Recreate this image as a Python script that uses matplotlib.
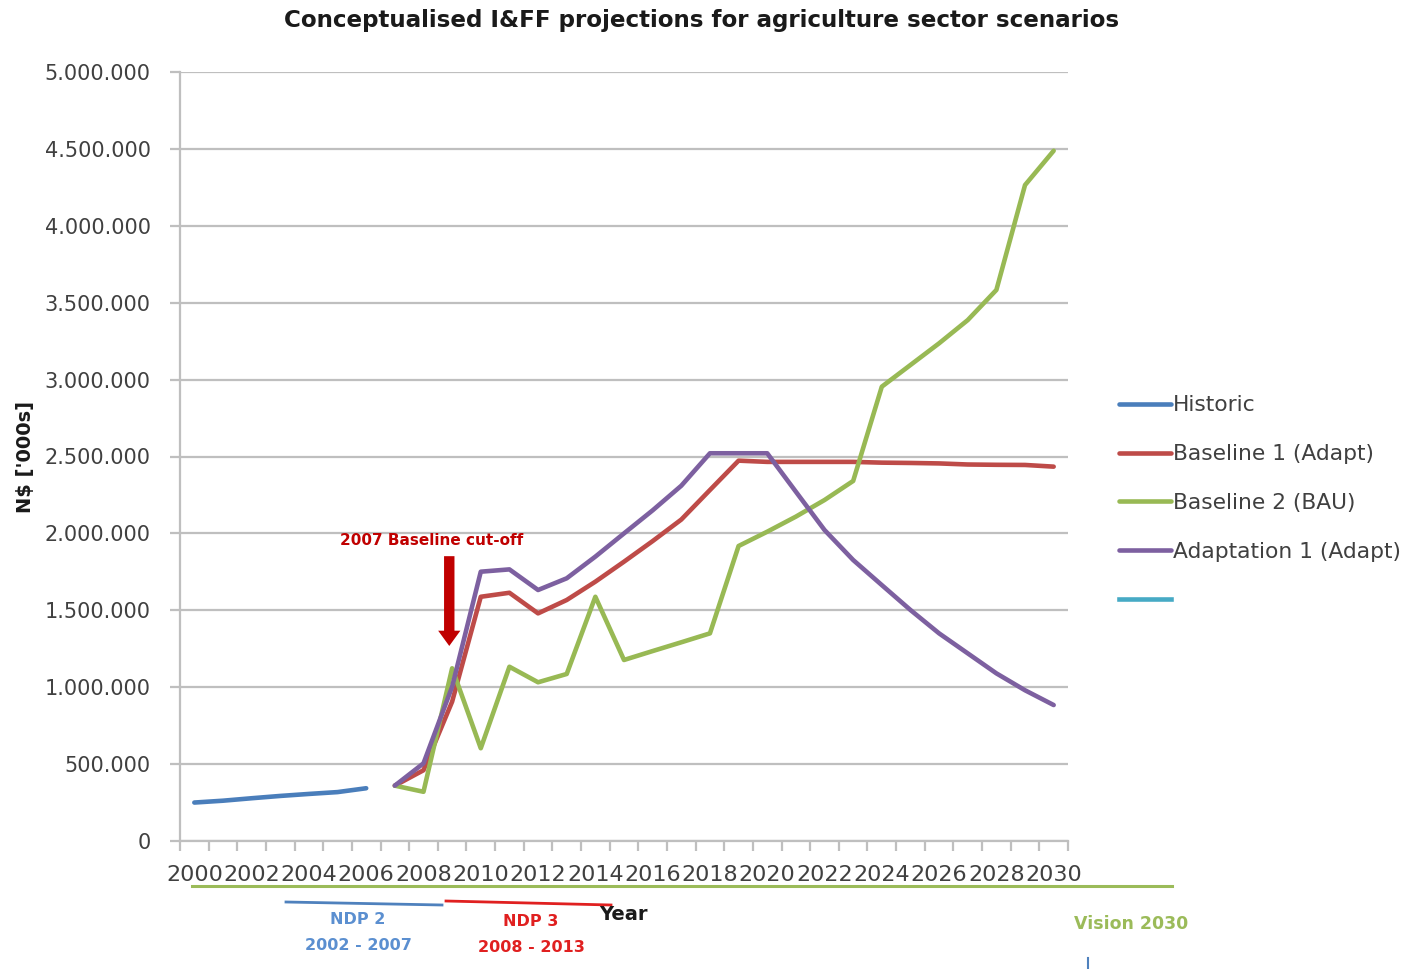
import numpy as np
import matplotlib
matplotlib.use("Agg")
import matplotlib.pyplot as plt
from matplotlib.lines import Line2D
from matplotlib.ticker import FuncFormatter, MultipleLocator

years = list(range(2000, 2031))

# N$ '000s
historic = [250000, 262000, 278000, 293000, 306000, 318000, 343000]
proj_years = list(range(2007, 2031))
baseline1 = [360000, 460000, 906000, 1588000, 1614000, 1480000, 1567000, 1686000,
             1816000, 1950000, 2090000, 2282000, 2473000, 2465000, 2465000, 2465000,
             2465000, 2460000, 2458000, 2455000, 2448000, 2446000, 2445000, 2434000]
baseline2 = [360000, 320000, 1123000, 603000, 1133000, 1032000, 1086000, 1588000,
             1177000, 1235000, 1292000, 1350000, 1918000, 2011000, 2109000, 2217000,
             2341000, 2954000, 3095000, 3236000, 3387000, 3583000, 4265000, 4488000]
adaptation1 = [360000, 505000, 1003000, 1751000, 1766000, 1632000, 1708000, 1849000,
               2000000, 2150000, 2310000, 2521000, 2521000, 2521000, 2271000, 2022000,
               1827000, 1664000, 1502000, 1350000, 1220000, 1090000, 980000, 884000]

W, H = 1413, 969


def fx(x):
    return x / W


def fy(y):
    return 1 - y / H


fig = plt.figure(figsize=(W / 100, H / 100), dpi=100)
ax = fig.add_axes([fx(180), fy(841), fx(1068) - fx(180), fy(72) - fy(841)])

lw = 3.3
ax.plot(years[:len(historic)], historic, color="#4A7EBB", lw=lw, label="Historic", solid_capstyle="round")
ax.plot(proj_years, baseline1, color="#BE4B48", lw=lw, label="Baseline 1 (Adapt)", solid_capstyle="round")
ax.plot(proj_years, baseline2, color="#98B954", lw=lw, label="Baseline 2 (BAU)", solid_capstyle="round")
ax.plot(proj_years, adaptation1, color="#7D60A0", lw=lw, label="Adaptation 1 (Adapt)", solid_capstyle="round")
ax.plot([], [], color="#46AAC5", lw=lw, label=" ")

ax.set_xlim(1999.5, 2030.5)
ax.set_ylim(0, 5000000)
ax.yaxis.set_major_locator(MultipleLocator(500000))
ax.yaxis.set_major_formatter(FuncFormatter(lambda v, p: "{:,.0f}".format(v).replace(",", ".")))
ax.set_xticks(years[::2])
ax.set_xticklabels([str(y) for y in years[::2]])
ax.set_xticks(np.arange(1999.5, 2031, 1), minor=True)

ax.grid(axis="y", color="#BFBFBF", lw=1.6)
ax.set_axisbelow(True)
for s in ["top", "right"]:
    ax.spines[s].set_visible(False)
for s in ["left", "bottom"]:
    ax.spines[s].set_color("#BFBFBF")
    ax.spines[s].set_linewidth(1.6)

ax.tick_params(axis="x", which="major", length=0, pad=17, labelsize=16, labelcolor="#404040")
ax.tick_params(axis="x", which="minor", length=7, width=1.6, color="#BFBFBF")
ax.tick_params(axis="y", length=7, width=1.6, color="#BFBFBF", labelsize=15, labelcolor="#404040", pad=14)

fig.text(fx(702), fy(21), "Conceptualised I&FF projections for agriculture sector scenarios",
         ha="center", va="center", fontsize=16.6, fontweight="bold", color="#1a1a1a")
fig.text(fx(25), fy(457), "N$ ['000s]", rotation=90, ha="center", va="center",
         fontsize=14, fontweight="bold", color="#1a1a1a")

ax.legend(loc="center left", bbox_to_anchor=(fx(1099), fy(503)), bbox_transform=fig.transFigure,
          frameon=False, fontsize=15.7, handlelength=2.4, handletextpad=0.1, labelspacing=1.32,
          labelcolor="#404040")

# baseline cut-off marker
ax.text(2008.3, 1955000, "2007 Baseline cut-off", ha="center", va="center",
        fontsize=11, fontweight="bold", color="#C00000")
ax.annotate("", xy=(2008.9, 1250000), xytext=(2008.9, 1870000),
            arrowprops=dict(arrowstyle="simple,head_width=1.6,head_length=1.1,tail_width=0.75",
                            color="#C00000", lw=0))

# plan periods under the axis
fig.add_artist(Line2D([fx(192), fx(1172)], [fy(886), fy(886)], color="#9BBB59", lw=2.2))
fig.add_artist(Line2D([fx(286), fx(442)], [fy(902), fy(905)], color="#4F81BD", lw=2))
fig.add_artist(Line2D([fx(446), fx(611)], [fy(901), fy(905)], color="#E02020", lw=2))
fig.add_artist(Line2D([fx(1088), fx(1088)], [fy(958), fy(969)], color="#4F81BD", lw=1.5))

fig.text(fx(358), fy(919), "NDP 2", ha="center", va="center", fontsize=11.5, fontweight="bold", color="#5B8FD0")
fig.text(fx(358), fy(945), "2002 - 2007", ha="center", va="center", fontsize=11.5, fontweight="bold", color="#5B8FD0")
fig.text(fx(531), fy(921), "NDP 3", ha="center", va="center", fontsize=11.5, fontweight="bold", color="#E02020")
fig.text(fx(531), fy(947), "2008 - 2013", ha="center", va="center", fontsize=11.5, fontweight="bold", color="#E02020")
fig.text(fx(623), fy(915), "Year", ha="center", va="center", fontsize=14, fontweight="bold", color="#1a1a1a")
fig.text(fx(1131), fy(924), "Vision 2030", ha="center", va="center", fontsize=12.5, fontweight="bold", color="#9BBB59")

fig.savefig("out.png", dpi=100)
